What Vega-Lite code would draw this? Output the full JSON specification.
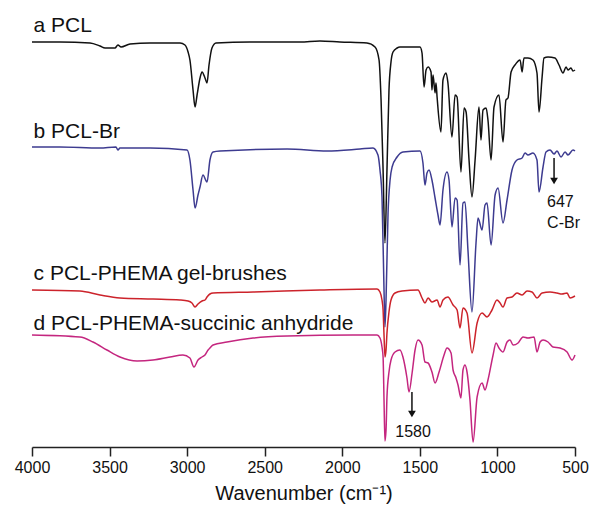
{
  "$schema": "https://vega.github.io/schema/vega-lite/v6.json",
  "width": 543,
  "height": 447,
  "autosize": {"type": "none"},
  "padding": {"left": 32, "top": 0, "right": 16, "bottom": 63},
  "background": "white",
  "config": {"view": {"stroke": null}, "font": "Liberation Sans"},
  "datasets": {
    "traces": [
      {"s": "a", "wn": 4000, "t": 405}, {"s": "a", "wn": 3820, "t": 405}, {"s": "a", "wn": 3626, "t": 404}, {"s": "a", "wn": 3562, "t": 401}, {"s": "a", "wn": 3529, "t": 399}, {"s": "a", "wn": 3465, "t": 399}, {"s": "a", "wn": 3446, "t": 402}, {"s": "a", "wn": 3426, "t": 400}, {"s": "a", "wn": 3368, "t": 403}, {"s": "a", "wn": 3239, "t": 404}, {"s": "a", "wn": 3046, "t": 404}, {"s": "a", "wn": 3014, "t": 402}, {"s": "a", "wn": 2994, "t": 395}, {"s": "a", "wn": 2982, "t": 387}, {"s": "a", "wn": 2962, "t": 357}, {"s": "a", "wn": 2949, "t": 340}, {"s": "a", "wn": 2936, "t": 352}, {"s": "a", "wn": 2917, "t": 369}, {"s": "a", "wn": 2904, "t": 375}, {"s": "a", "wn": 2885, "t": 369}, {"s": "a", "wn": 2872, "t": 364}, {"s": "a", "wn": 2859, "t": 382}, {"s": "a", "wn": 2840, "t": 399}, {"s": "a", "wn": 2814, "t": 404}, {"s": "a", "wn": 2595, "t": 405}, {"s": "a", "wn": 2272, "t": 405}, {"s": "a", "wn": 2144, "t": 406}, {"s": "a", "wn": 2015, "t": 405}, {"s": "a", "wn": 1841, "t": 404}, {"s": "a", "wn": 1789, "t": 400}, {"s": "a", "wn": 1763, "t": 387}, {"s": "a", "wn": 1750, "t": 347}, {"s": "a", "wn": 1737, "t": 277}, {"s": "a", "wn": 1725, "t": 204}, {"s": "a", "wn": 1712, "t": 277}, {"s": "a", "wn": 1699, "t": 357}, {"s": "a", "wn": 1686, "t": 385}, {"s": "a", "wn": 1673, "t": 395}, {"s": "a", "wn": 1647, "t": 399}, {"s": "a", "wn": 1628, "t": 400}, {"s": "a", "wn": 1499, "t": 400}, {"s": "a", "wn": 1486, "t": 394}, {"s": "a", "wn": 1473, "t": 360}, {"s": "a", "wn": 1460, "t": 377}, {"s": "a", "wn": 1447, "t": 380}, {"s": "a", "wn": 1428, "t": 375}, {"s": "a", "wn": 1422, "t": 357}, {"s": "a", "wn": 1415, "t": 372}, {"s": "a", "wn": 1402, "t": 354}, {"s": "a", "wn": 1396, "t": 364}, {"s": "a", "wn": 1389, "t": 350}, {"s": "a", "wn": 1364, "t": 315}, {"s": "a", "wn": 1351, "t": 367}, {"s": "a", "wn": 1331, "t": 374}, {"s": "a", "wn": 1319, "t": 364}, {"s": "a", "wn": 1293, "t": 310}, {"s": "a", "wn": 1273, "t": 352}, {"s": "a", "wn": 1260, "t": 350}, {"s": "a", "wn": 1235, "t": 275}, {"s": "a", "wn": 1215, "t": 339}, {"s": "a", "wn": 1202, "t": 335}, {"s": "a", "wn": 1183, "t": 287}, {"s": "a", "wn": 1164, "t": 250}, {"s": "a", "wn": 1144, "t": 287}, {"s": "a", "wn": 1119, "t": 340}, {"s": "a", "wn": 1106, "t": 307}, {"s": "a", "wn": 1093, "t": 337}, {"s": "a", "wn": 1073, "t": 339}, {"s": "a", "wn": 1061, "t": 327}, {"s": "a", "wn": 1041, "t": 287}, {"s": "a", "wn": 1022, "t": 340}, {"s": "a", "wn": 990, "t": 352}, {"s": "a", "wn": 964, "t": 305}, {"s": "a", "wn": 945, "t": 347}, {"s": "a", "wn": 932, "t": 349}, {"s": "a", "wn": 912, "t": 375}, {"s": "a", "wn": 887, "t": 382}, {"s": "a", "wn": 854, "t": 387}, {"s": "a", "wn": 841, "t": 375}, {"s": "a", "wn": 829, "t": 389}, {"s": "a", "wn": 803, "t": 389}, {"s": "a", "wn": 771, "t": 387}, {"s": "a", "wn": 745, "t": 374}, {"s": "a", "wn": 732, "t": 335}, {"s": "a", "wn": 712, "t": 370}, {"s": "a", "wn": 700, "t": 389}, {"s": "a", "wn": 674, "t": 390}, {"s": "a", "wn": 629, "t": 389}, {"s": "a", "wn": 603, "t": 382}, {"s": "a", "wn": 577, "t": 374}, {"s": "a", "wn": 558, "t": 380}, {"s": "a", "wn": 545, "t": 377}, {"s": "a", "wn": 526, "t": 379}, {"s": "a", "wn": 513, "t": 376}, {"s": "a", "wn": 500, "t": 377},

      {"s": "b", "wn": 4000, "t": 300}, {"s": "b", "wn": 3820, "t": 300}, {"s": "b", "wn": 3562, "t": 299}, {"s": "b", "wn": 3459, "t": 300}, {"s": "b", "wn": 3446, "t": 297}, {"s": "b", "wn": 3433, "t": 299}, {"s": "b", "wn": 3239, "t": 299}, {"s": "b", "wn": 3001, "t": 297}, {"s": "b", "wn": 2982, "t": 287}, {"s": "b", "wn": 2962, "t": 257}, {"s": "b", "wn": 2949, "t": 239}, {"s": "b", "wn": 2930, "t": 252}, {"s": "b", "wn": 2917, "t": 260}, {"s": "b", "wn": 2898, "t": 272}, {"s": "b", "wn": 2872, "t": 265}, {"s": "b", "wn": 2853, "t": 287}, {"s": "b", "wn": 2833, "t": 295}, {"s": "b", "wn": 2788, "t": 296}, {"s": "b", "wn": 2356, "t": 298}, {"s": "b", "wn": 2098, "t": 296}, {"s": "b", "wn": 1886, "t": 298}, {"s": "b", "wn": 1802, "t": 299}, {"s": "b", "wn": 1770, "t": 292}, {"s": "b", "wn": 1757, "t": 277}, {"s": "b", "wn": 1744, "t": 250}, {"s": "b", "wn": 1731, "t": 157}, {"s": "b", "wn": 1725, "t": 120}, {"s": "b", "wn": 1718, "t": 147}, {"s": "b", "wn": 1705, "t": 234}, {"s": "b", "wn": 1692, "t": 267}, {"s": "b", "wn": 1679, "t": 280}, {"s": "b", "wn": 1647, "t": 290}, {"s": "b", "wn": 1609, "t": 295}, {"s": "b", "wn": 1499, "t": 296}, {"s": "b", "wn": 1480, "t": 284}, {"s": "b", "wn": 1467, "t": 262}, {"s": "b", "wn": 1454, "t": 274}, {"s": "b", "wn": 1441, "t": 277}, {"s": "b", "wn": 1422, "t": 267}, {"s": "b", "wn": 1402, "t": 249}, {"s": "b", "wn": 1383, "t": 232}, {"s": "b", "wn": 1370, "t": 222}, {"s": "b", "wn": 1351, "t": 257}, {"s": "b", "wn": 1325, "t": 275}, {"s": "b", "wn": 1312, "t": 267}, {"s": "b", "wn": 1293, "t": 220}, {"s": "b", "wn": 1273, "t": 249}, {"s": "b", "wn": 1260, "t": 247}, {"s": "b", "wn": 1241, "t": 182}, {"s": "b", "wn": 1222, "t": 244}, {"s": "b", "wn": 1209, "t": 245}, {"s": "b", "wn": 1190, "t": 197}, {"s": "b", "wn": 1164, "t": 135}, {"s": "b", "wn": 1138, "t": 204}, {"s": "b", "wn": 1125, "t": 229}, {"s": "b", "wn": 1099, "t": 217}, {"s": "b", "wn": 1080, "t": 242}, {"s": "b", "wn": 1067, "t": 244}, {"s": "b", "wn": 1041, "t": 202}, {"s": "b", "wn": 1015, "t": 252}, {"s": "b", "wn": 996, "t": 259}, {"s": "b", "wn": 964, "t": 224}, {"s": "b", "wn": 938, "t": 247}, {"s": "b", "wn": 906, "t": 277}, {"s": "b", "wn": 874, "t": 287}, {"s": "b", "wn": 841, "t": 289}, {"s": "b", "wn": 822, "t": 294}, {"s": "b", "wn": 803, "t": 292}, {"s": "b", "wn": 771, "t": 294}, {"s": "b", "wn": 745, "t": 287}, {"s": "b", "wn": 732, "t": 255}, {"s": "b", "wn": 706, "t": 280}, {"s": "b", "wn": 687, "t": 295}, {"s": "b", "wn": 661, "t": 297}, {"s": "b", "wn": 635, "t": 293}, {"s": "b", "wn": 616, "t": 296}, {"s": "b", "wn": 590, "t": 290}, {"s": "b", "wn": 564, "t": 295}, {"s": "b", "wn": 545, "t": 292}, {"s": "b", "wn": 513, "t": 297}, {"s": "b", "wn": 500, "t": 296},

      {"s": "c", "wn": 4000, "t": 157}, {"s": "c", "wn": 3691, "t": 156}, {"s": "c", "wn": 3562, "t": 152}, {"s": "c", "wn": 3433, "t": 149}, {"s": "c", "wn": 3220, "t": 148}, {"s": "c", "wn": 3046, "t": 147}, {"s": "c", "wn": 2994, "t": 146}, {"s": "c", "wn": 2969, "t": 144}, {"s": "c", "wn": 2949, "t": 140}, {"s": "c", "wn": 2930, "t": 143}, {"s": "c", "wn": 2904, "t": 146}, {"s": "c", "wn": 2885, "t": 147}, {"s": "c", "wn": 2872, "t": 150}, {"s": "c", "wn": 2853, "t": 153}, {"s": "c", "wn": 2833, "t": 154}, {"s": "c", "wn": 2575, "t": 155}, {"s": "c", "wn": 2144, "t": 157}, {"s": "c", "wn": 1776, "t": 158}, {"s": "c", "wn": 1757, "t": 155}, {"s": "c", "wn": 1744, "t": 147}, {"s": "c", "wn": 1737, "t": 137}, {"s": "c", "wn": 1731, "t": 112}, {"s": "c", "wn": 1725, "t": 90}, {"s": "c", "wn": 1718, "t": 97}, {"s": "c", "wn": 1712, "t": 114}, {"s": "c", "wn": 1699, "t": 135}, {"s": "c", "wn": 1686, "t": 147}, {"s": "c", "wn": 1660, "t": 154}, {"s": "c", "wn": 1615, "t": 156}, {"s": "c", "wn": 1512, "t": 157}, {"s": "c", "wn": 1486, "t": 149}, {"s": "c", "wn": 1467, "t": 144}, {"s": "c", "wn": 1447, "t": 149}, {"s": "c", "wn": 1422, "t": 145}, {"s": "c", "wn": 1389, "t": 147}, {"s": "c", "wn": 1370, "t": 140}, {"s": "c", "wn": 1351, "t": 147}, {"s": "c", "wn": 1319, "t": 150}, {"s": "c", "wn": 1286, "t": 142}, {"s": "c", "wn": 1260, "t": 137}, {"s": "c", "wn": 1241, "t": 119}, {"s": "c", "wn": 1222, "t": 139}, {"s": "c", "wn": 1196, "t": 134}, {"s": "c", "wn": 1164, "t": 94}, {"s": "c", "wn": 1131, "t": 124}, {"s": "c", "wn": 1099, "t": 134}, {"s": "c", "wn": 1067, "t": 130}, {"s": "c", "wn": 1035, "t": 137}, {"s": "c", "wn": 1003, "t": 147}, {"s": "c", "wn": 983, "t": 144}, {"s": "c", "wn": 964, "t": 140}, {"s": "c", "wn": 938, "t": 149}, {"s": "c", "wn": 906, "t": 150}, {"s": "c", "wn": 874, "t": 154}, {"s": "c", "wn": 841, "t": 152}, {"s": "c", "wn": 809, "t": 156}, {"s": "c", "wn": 777, "t": 155}, {"s": "c", "wn": 745, "t": 149}, {"s": "c", "wn": 712, "t": 154}, {"s": "c", "wn": 661, "t": 155}, {"s": "c", "wn": 616, "t": 154}, {"s": "c", "wn": 584, "t": 153}, {"s": "c", "wn": 551, "t": 154}, {"s": "c", "wn": 532, "t": 149}, {"s": "c", "wn": 500, "t": 151},

      {"s": "d", "wn": 4000, "t": 112}, {"s": "d", "wn": 3691, "t": 110}, {"s": "d", "wn": 3607, "t": 105}, {"s": "d", "wn": 3517, "t": 97}, {"s": "d", "wn": 3433, "t": 90}, {"s": "d", "wn": 3323, "t": 86}, {"s": "d", "wn": 3220, "t": 87}, {"s": "d", "wn": 3110, "t": 90}, {"s": "d", "wn": 3027, "t": 92}, {"s": "d", "wn": 2982, "t": 89}, {"s": "d", "wn": 2956, "t": 80}, {"s": "d", "wn": 2930, "t": 87}, {"s": "d", "wn": 2904, "t": 90}, {"s": "d", "wn": 2885, "t": 92}, {"s": "d", "wn": 2865, "t": 97}, {"s": "d", "wn": 2853, "t": 99}, {"s": "d", "wn": 2833, "t": 102}, {"s": "d", "wn": 2743, "t": 105}, {"s": "d", "wn": 2575, "t": 109}, {"s": "d", "wn": 2356, "t": 111}, {"s": "d", "wn": 1931, "t": 112}, {"s": "d", "wn": 1776, "t": 112}, {"s": "d", "wn": 1757, "t": 109}, {"s": "d", "wn": 1744, "t": 100}, {"s": "d", "wn": 1737, "t": 90}, {"s": "d", "wn": 1731, "t": 47}, {"s": "d", "wn": 1725, "t": 6}, {"s": "d", "wn": 1718, "t": 17}, {"s": "d", "wn": 1712, "t": 50}, {"s": "d", "wn": 1699, "t": 75}, {"s": "d", "wn": 1686, "t": 87}, {"s": "d", "wn": 1660, "t": 95}, {"s": "d", "wn": 1628, "t": 97}, {"s": "d", "wn": 1609, "t": 90}, {"s": "d", "wn": 1583, "t": 69}, {"s": "d", "wn": 1570, "t": 55}, {"s": "d", "wn": 1550, "t": 74}, {"s": "d", "wn": 1531, "t": 97}, {"s": "d", "wn": 1512, "t": 107}, {"s": "d", "wn": 1486, "t": 102}, {"s": "d", "wn": 1467, "t": 85}, {"s": "d", "wn": 1447, "t": 84}, {"s": "d", "wn": 1422, "t": 75}, {"s": "d", "wn": 1402, "t": 64}, {"s": "d", "wn": 1376, "t": 75}, {"s": "d", "wn": 1344, "t": 92}, {"s": "d", "wn": 1325, "t": 99}, {"s": "d", "wn": 1299, "t": 94}, {"s": "d", "wn": 1286, "t": 77}, {"s": "d", "wn": 1267, "t": 69}, {"s": "d", "wn": 1254, "t": 62}, {"s": "d", "wn": 1235, "t": 49}, {"s": "d", "wn": 1222, "t": 77}, {"s": "d", "wn": 1209, "t": 82}, {"s": "d", "wn": 1196, "t": 75}, {"s": "d", "wn": 1177, "t": 47}, {"s": "d", "wn": 1157, "t": 5}, {"s": "d", "wn": 1131, "t": 50}, {"s": "d", "wn": 1099, "t": 64}, {"s": "d", "wn": 1080, "t": 57}, {"s": "d", "wn": 1061, "t": 67}, {"s": "d", "wn": 1028, "t": 92}, {"s": "d", "wn": 1009, "t": 104}, {"s": "d", "wn": 990, "t": 99}, {"s": "d", "wn": 964, "t": 95}, {"s": "d", "wn": 938, "t": 105}, {"s": "d", "wn": 919, "t": 107}, {"s": "d", "wn": 899, "t": 102}, {"s": "d", "wn": 867, "t": 104}, {"s": "d", "wn": 835, "t": 110}, {"s": "d", "wn": 803, "t": 109}, {"s": "d", "wn": 764, "t": 110}, {"s": "d", "wn": 745, "t": 95}, {"s": "d", "wn": 725, "t": 105}, {"s": "d", "wn": 706, "t": 107}, {"s": "d", "wn": 674, "t": 105}, {"s": "d", "wn": 642, "t": 100}, {"s": "d", "wn": 597, "t": 99}, {"s": "d", "wn": 551, "t": 95}, {"s": "d", "wn": 519, "t": 87}, {"s": "d", "wn": 500, "t": 92}
    ],
    "labels": [
      {"wn": 3990, "t": 415, "text": "a PCL", "size": 21},
      {"wn": 3990, "t": 309, "text": "b PCL-Br", "size": 21},
      {"wn": 3990, "t": 167, "text": "c PCL-PHEMA gel-brushes", "size": 21},
      {"wn": 3990, "t": 117, "text": "d PCL-PHEMA-succinic anhydride", "size": 21},
      {"wn": 680, "t": 240, "text": "647", "size": 16},
      {"wn": 680, "t": 219, "text": "C-Br", "size": 16}
    ],
    "centerlabels": [
      {"wn": 1544, "t": 10, "text": "1580", "size": 16}
    ],
    "arrows": [
      {"wn": 635, "top": 289, "bottom": 268, "head": 266},
      {"wn": 1551, "top": 55, "bottom": 35, "head": 33}
    ]
  },
  "layer": [
    {
      "data": {"name": "traces"},
      "mark": {"type": "line", "strokeWidth": 1.5, "interpolate": "monotone"},
      "encoding": {
        "x": {
          "field": "wn", "type": "quantitative",
          "scale": {"domain": [4000, 500], "nice": false, "zero": false},
          "axis": {
            "title": "Wavenumber (cm⁻¹)",
            "titleFontSize": 20, "titleFontWeight": "normal", "titleColor": "#111",
            "titlePadding": 8,
            "values": [4000, 3750, 3500, 3250, 3000, 2750, 2500, 2250, 2000, 1750, 1500, 1250, 1000, 750, 500],
            "labelExpr": "datum.value % 500 === 0 ? format(datum.value, 'd') : ''",
            "labelFontSize": 16, "labelColor": "#111", "labelPadding": 3,
            "labelOverlap": false, "labelFlush": false,
            "tickSize": {"condition": {"test": "datum.value % 500 === 0", "value": 9}, "value": 5},
            "tickWidth": 1.5, "tickColor": "#222",
            "domainWidth": 1.5, "domainColor": "#222",
            "grid": false
          }
        },
        "y": {
          "field": "t", "type": "quantitative",
          "scale": {"domain": [0, 447], "nice": false, "zero": false},
          "axis": null
        },
        "color": {
          "field": "s", "type": "nominal",
          "scale": {"domain": ["a", "b", "c", "d"], "range": ["#111111", "#3d3b90", "#cc232b", "#c4267f"]},
          "legend": null
        },
        "order": {"field": "wn", "sort": "descending"}
      }
    },
    {
      "data": {"name": "labels"},
      "mark": {"type": "text", "baseline": "alphabetic", "align": "left", "color": "#111"},
      "encoding": {
        "x": {"field": "wn", "type": "quantitative"},
        "y": {"field": "t", "type": "quantitative"},
        "text": {"field": "text"},
        "size": {"field": "size", "type": "quantitative", "scale": null}
      }
    },
    {
      "data": {"name": "centerlabels"},
      "mark": {"type": "text", "baseline": "alphabetic", "align": "center", "color": "#111"},
      "encoding": {
        "x": {"field": "wn", "type": "quantitative"},
        "y": {"field": "t", "type": "quantitative"},
        "text": {"field": "text"},
        "size": {"field": "size", "type": "quantitative", "scale": null}
      }
    },
    {
      "data": {"name": "arrows"},
      "mark": {"type": "rule", "strokeWidth": 1.5, "color": "#111"},
      "encoding": {
        "x": {"field": "wn", "type": "quantitative"},
        "y": {"field": "top", "type": "quantitative"},
        "y2": {"field": "bottom"}
      }
    },
    {
      "data": {"name": "arrows"},
      "mark": {"type": "point", "shape": "triangle-down", "filled": true, "color": "#111", "size": 60, "opacity": 1},
      "encoding": {
        "x": {"field": "wn", "type": "quantitative"},
        "y": {"field": "head", "type": "quantitative"}
      }
    }
  ]
}
